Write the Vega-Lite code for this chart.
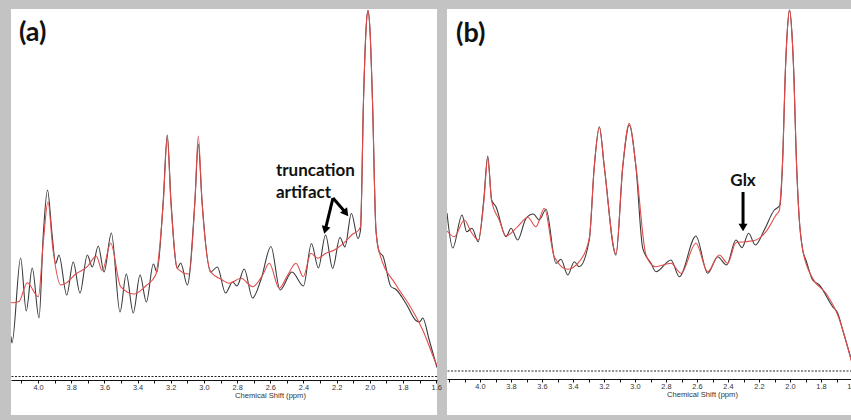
{
  "$schema": "https://vega.github.io/schema/vega-lite/v6.json",
  "background": "#c3c3c3",
  "padding": {"left": 10, "top": 9, "right": 0, "bottom": 5},
  "autosize": {"type": "pad"},
  "bounds": "flush",
  "spacing": 10,
  "config": {
    "view": {"fill": "white", "stroke": null},
    "axisX": {
      "grid": false,
      "domainColor": "#111",
      "domainWidth": 1,
      "tickColor": "#111",
      "tickSize": 3,
      "tickWidth": 1,
      "labelFont": "Liberation Sans",
      "labelFontSize": 7.4,
      "labelColor": "#333",
      "labelPadding": 0,
      "labelFlush": false,
      "labelOverlap": false,
      "titleFont": "Liberation Sans",
      "titleFontSize": 7.6,
      "titleFontWeight": "normal",
      "titleColor": "#333",
      "titleBaseline": "middle"
    }
  },
  "datasets": {
    "specA": [
      {"ppm": 4.163, "intensity": 40, "series": "spectrum"},
      {"ppm": 4.157, "intensity": 33.5, "series": "spectrum"},
      {"ppm": 4.105, "intensity": 118.5, "series": "spectrum"},
      {"ppm": 4.071, "intensity": 65.5, "series": "spectrum"},
      {"ppm": 4.035, "intensity": 108.5, "series": "spectrum"},
      {"ppm": 3.994, "intensity": 58.5, "series": "spectrum"},
      {"ppm": 3.968, "intensity": 143, "series": "spectrum"},
      {"ppm": 3.943, "intensity": 186.5, "series": "spectrum"},
      {"ppm": 3.916, "intensity": 143, "series": "spectrum"},
      {"ppm": 3.894, "intensity": 113, "series": "spectrum"},
      {"ppm": 3.874, "intensity": 121.5, "series": "spectrum"},
      {"ppm": 3.827, "intensity": 81.5, "series": "spectrum"},
      {"ppm": 3.788, "intensity": 114.5, "series": "spectrum"},
      {"ppm": 3.747, "intensity": 83.5, "series": "spectrum"},
      {"ppm": 3.703, "intensity": 121.5, "series": "spectrum"},
      {"ppm": 3.673, "intensity": 109.5, "series": "spectrum"},
      {"ppm": 3.637, "intensity": 130.5, "series": "spectrum"},
      {"ppm": 3.602, "intensity": 104.5, "series": "spectrum"},
      {"ppm": 3.558, "intensity": 143.5, "series": "spectrum"},
      {"ppm": 3.506, "intensity": 64.5, "series": "spectrum"},
      {"ppm": 3.468, "intensity": 102.5, "series": "spectrum"},
      {"ppm": 3.426, "intensity": 63.5, "series": "spectrum"},
      {"ppm": 3.385, "intensity": 101.5, "series": "spectrum"},
      {"ppm": 3.347, "intensity": 74.5, "series": "spectrum"},
      {"ppm": 3.305, "intensity": 112.5, "series": "spectrum"},
      {"ppm": 3.283, "intensity": 104.5, "series": "spectrum"},
      {"ppm": 3.245, "intensity": 176.5, "series": "spectrum"},
      {"ppm": 3.221, "intensity": 241.5, "series": "spectrum"},
      {"ppm": 3.199, "intensity": 176.5, "series": "spectrum"},
      {"ppm": 3.161, "intensity": 108.5, "series": "spectrum"},
      {"ppm": 3.140, "intensity": 113.5, "series": "spectrum"},
      {"ppm": 3.100, "intensity": 91.5, "series": "spectrum"},
      {"ppm": 3.054, "intensity": 176.5, "series": "spectrum"},
      {"ppm": 3.034, "intensity": 232.5, "series": "spectrum"},
      {"ppm": 3.012, "intensity": 176.5, "series": "spectrum"},
      {"ppm": 2.960, "intensity": 104.5, "series": "spectrum"},
      {"ppm": 2.919, "intensity": 109.5, "series": "spectrum"},
      {"ppm": 2.870, "intensity": 83.5, "series": "spectrum"},
      {"ppm": 2.827, "intensity": 94.5, "series": "spectrum"},
      {"ppm": 2.801, "intensity": 90.5, "series": "spectrum"},
      {"ppm": 2.757, "intensity": 107.5, "series": "spectrum"},
      {"ppm": 2.707, "intensity": 78.5, "series": "spectrum"},
      {"ppm": 2.656, "intensity": 97, "series": "spectrum"},
      {"ppm": 2.596, "intensity": 130, "series": "spectrum"},
      {"ppm": 2.541, "intensity": 86.5, "series": "spectrum"},
      {"ppm": 2.469, "intensity": 104.5, "series": "spectrum"},
      {"ppm": 2.400, "intensity": 90.5, "series": "spectrum"},
      {"ppm": 2.352, "intensity": 133, "series": "spectrum"},
      {"ppm": 2.310, "intensity": 108.5, "series": "spectrum"},
      {"ppm": 2.267, "intensity": 141.5, "series": "spectrum"},
      {"ppm": 2.224, "intensity": 108, "series": "spectrum"},
      {"ppm": 2.180, "intensity": 139, "series": "spectrum"},
      {"ppm": 2.150, "intensity": 129.5, "series": "spectrum"},
      {"ppm": 2.111, "intensity": 163, "series": "spectrum"},
      {"ppm": 2.071, "intensity": 138, "series": "spectrum"},
      {"ppm": 2.056, "intensity": 146.5, "series": "spectrum"},
      {"ppm": 2.038, "intensity": 276.5, "series": "spectrum"},
      {"ppm": 2.023, "intensity": 346.5, "series": "spectrum"},
      {"ppm": 2.011, "intensity": 366, "series": "spectrum"},
      {"ppm": 1.999, "intensity": 346.5, "series": "spectrum"},
      {"ppm": 1.984, "intensity": 276.5, "series": "spectrum"},
      {"ppm": 1.963, "intensity": 146.5, "series": "spectrum"},
      {"ppm": 1.943, "intensity": 124.5, "series": "spectrum"},
      {"ppm": 1.921, "intensity": 120.5, "series": "spectrum"},
      {"ppm": 1.873, "intensity": 90, "series": "spectrum"},
      {"ppm": 1.842, "intensity": 87, "series": "spectrum"},
      {"ppm": 1.782, "intensity": 73, "series": "spectrum"},
      {"ppm": 1.722, "intensity": 56, "series": "spectrum"},
      {"ppm": 1.700, "intensity": 54.5, "series": "spectrum"},
      {"ppm": 1.681, "intensity": 58.5, "series": "spectrum"},
      {"ppm": 1.642, "intensity": 36.5, "series": "spectrum"},
      {"ppm": 1.595, "intensity": 9, "series": "spectrum"},
      {"ppm": 4.163, "intensity": 74, "series": "fit"},
      {"ppm": 4.155, "intensity": 73.8, "series": "fit"},
      {"ppm": 4.115, "intensity": 75, "series": "fit"},
      {"ppm": 4.065, "intensity": 93.8, "series": "fit"},
      {"ppm": 3.998, "intensity": 79.8, "series": "fit"},
      {"ppm": 3.968, "intensity": 135, "series": "fit"},
      {"ppm": 3.940, "intensity": 174.8, "series": "fit"},
      {"ppm": 3.912, "intensity": 130, "series": "fit"},
      {"ppm": 3.863, "intensity": 91.5, "series": "fit"},
      {"ppm": 3.833, "intensity": 93.2, "series": "fit"},
      {"ppm": 3.773, "intensity": 102.5, "series": "fit"},
      {"ppm": 3.703, "intensity": 109.8, "series": "fit"},
      {"ppm": 3.649, "intensity": 120.5, "series": "fit"},
      {"ppm": 3.613, "intensity": 105.8, "series": "fit"},
      {"ppm": 3.562, "intensity": 133.2, "series": "fit"},
      {"ppm": 3.502, "intensity": 89.8, "series": "fit"},
      {"ppm": 3.422, "intensity": 82.5, "series": "fit"},
      {"ppm": 3.351, "intensity": 90.5, "series": "fit"},
      {"ppm": 3.291, "intensity": 101.5, "series": "fit"},
      {"ppm": 3.245, "intensity": 174, "series": "fit"},
      {"ppm": 3.221, "intensity": 239.2, "series": "fit"},
      {"ppm": 3.199, "intensity": 174, "series": "fit"},
      {"ppm": 3.161, "intensity": 108.2, "series": "fit"},
      {"ppm": 3.090, "intensity": 102.5, "series": "fit"},
      {"ppm": 3.054, "intensity": 176, "series": "fit"},
      {"ppm": 3.034, "intensity": 240.5, "series": "fit"},
      {"ppm": 3.012, "intensity": 176, "series": "fit"},
      {"ppm": 2.959, "intensity": 104.8, "series": "fit"},
      {"ppm": 2.889, "intensity": 96.5, "series": "fit"},
      {"ppm": 2.847, "intensity": 93.2, "series": "fit"},
      {"ppm": 2.777, "intensity": 98.2, "series": "fit"},
      {"ppm": 2.706, "intensity": 89.8, "series": "fit"},
      {"ppm": 2.646, "intensity": 101.5, "series": "fit"},
      {"ppm": 2.606, "intensity": 113.2, "series": "fit"},
      {"ppm": 2.546, "intensity": 88.2, "series": "fit"},
      {"ppm": 2.495, "intensity": 101.5, "series": "fit"},
      {"ppm": 2.445, "intensity": 113.2, "series": "fit"},
      {"ppm": 2.401, "intensity": 99.8, "series": "fit"},
      {"ppm": 2.355, "intensity": 123.2, "series": "fit"},
      {"ppm": 2.314, "intensity": 118.2, "series": "fit"},
      {"ppm": 2.264, "intensity": 123.2, "series": "fit"},
      {"ppm": 2.214, "intensity": 126.5, "series": "fit"},
      {"ppm": 2.154, "intensity": 133.8, "series": "fit"},
      {"ppm": 2.103, "intensity": 142.5, "series": "fit"},
      {"ppm": 2.067, "intensity": 146.5, "series": "fit"},
      {"ppm": 2.056, "intensity": 150, "series": "fit"},
      {"ppm": 2.038, "intensity": 276.5, "series": "fit"},
      {"ppm": 2.023, "intensity": 346.5, "series": "fit"},
      {"ppm": 2.011, "intensity": 366, "series": "fit"},
      {"ppm": 1.999, "intensity": 346.5, "series": "fit"},
      {"ppm": 1.984, "intensity": 276.5, "series": "fit"},
      {"ppm": 1.963, "intensity": 146.5, "series": "fit"},
      {"ppm": 1.943, "intensity": 124.5, "series": "fit"},
      {"ppm": 1.842, "intensity": 91.5, "series": "fit"},
      {"ppm": 1.762, "intensity": 71.5, "series": "fit"},
      {"ppm": 1.681, "intensity": 46.5, "series": "fit"},
      {"ppm": 1.601, "intensity": 13.2, "series": "fit"},
      {"ppm": 1.595, "intensity": 11, "series": "fit"}
    ],
    "specB": [
      {"ppm": 4.213, "intensity": 158, "series": "spectrum"},
      {"ppm": 4.176, "intensity": 123, "series": "spectrum"},
      {"ppm": 4.116, "intensity": 156, "series": "spectrum"},
      {"ppm": 4.086, "intensity": 139.3, "series": "spectrum"},
      {"ppm": 4.052, "intensity": 142.7, "series": "spectrum"},
      {"ppm": 4.011, "intensity": 129.3, "series": "spectrum"},
      {"ppm": 3.976, "intensity": 171, "series": "spectrum"},
      {"ppm": 3.950, "intensity": 215, "series": "spectrum"},
      {"ppm": 3.925, "intensity": 171, "series": "spectrum"},
      {"ppm": 3.897, "intensity": 164.3, "series": "spectrum"},
      {"ppm": 3.832, "intensity": 134.3, "series": "spectrum"},
      {"ppm": 3.800, "intensity": 142.7, "series": "spectrum"},
      {"ppm": 3.757, "intensity": 131, "series": "spectrum"},
      {"ppm": 3.703, "intensity": 152.7, "series": "spectrum"},
      {"ppm": 3.656, "intensity": 157, "series": "spectrum"},
      {"ppm": 3.618, "intensity": 151, "series": "spectrum"},
      {"ppm": 3.574, "intensity": 161.7, "series": "spectrum"},
      {"ppm": 3.510, "intensity": 107.7, "series": "spectrum"},
      {"ppm": 3.478, "intensity": 111.7, "series": "spectrum"},
      {"ppm": 3.434, "intensity": 96, "series": "spectrum"},
      {"ppm": 3.392, "intensity": 109.3, "series": "spectrum"},
      {"ppm": 3.360, "intensity": 104.3, "series": "spectrum"},
      {"ppm": 3.295, "intensity": 131, "series": "spectrum"},
      {"ppm": 3.263, "intensity": 204, "series": "spectrum"},
      {"ppm": 3.230, "intensity": 244.3, "series": "spectrum"},
      {"ppm": 3.198, "intensity": 204, "series": "spectrum"},
      {"ppm": 3.123, "intensity": 116, "series": "spectrum"},
      {"ppm": 3.079, "intensity": 204, "series": "spectrum"},
      {"ppm": 3.037, "intensity": 246, "series": "spectrum"},
      {"ppm": 2.994, "intensity": 204, "series": "spectrum"},
      {"ppm": 2.950, "intensity": 122.7, "series": "spectrum"},
      {"ppm": 2.897, "intensity": 107.7, "series": "spectrum"},
      {"ppm": 2.865, "intensity": 99.3, "series": "spectrum"},
      {"ppm": 2.768, "intensity": 111, "series": "spectrum"},
      {"ppm": 2.714, "intensity": 94.3, "series": "spectrum"},
      {"ppm": 2.607, "intensity": 135, "series": "spectrum"},
      {"ppm": 2.531, "intensity": 97.7, "series": "spectrum"},
      {"ppm": 2.467, "intensity": 114.3, "series": "spectrum"},
      {"ppm": 2.409, "intensity": 106, "series": "spectrum"},
      {"ppm": 2.349, "intensity": 131, "series": "spectrum"},
      {"ppm": 2.310, "intensity": 123.3, "series": "spectrum"},
      {"ppm": 2.267, "intensity": 137.7, "series": "spectrum"},
      {"ppm": 2.224, "intensity": 126, "series": "spectrum"},
      {"ppm": 2.166, "intensity": 141, "series": "spectrum"},
      {"ppm": 2.101, "intensity": 161, "series": "spectrum"},
      {"ppm": 2.073, "intensity": 164.3, "series": "spectrum"},
      {"ppm": 2.065, "intensity": 166, "series": "spectrum"},
      {"ppm": 2.045, "intensity": 221, "series": "spectrum"},
      {"ppm": 2.032, "intensity": 291, "series": "spectrum"},
      {"ppm": 2.019, "intensity": 336, "series": "spectrum"},
      {"ppm": 2.003, "intensity": 361, "series": "spectrum"},
      {"ppm": 1.987, "intensity": 336, "series": "spectrum"},
      {"ppm": 1.974, "intensity": 291, "series": "spectrum"},
      {"ppm": 1.961, "intensity": 221, "series": "spectrum"},
      {"ppm": 1.942, "intensity": 156, "series": "spectrum"},
      {"ppm": 1.918, "intensity": 121, "series": "spectrum"},
      {"ppm": 1.897, "intensity": 111, "series": "spectrum"},
      {"ppm": 1.854, "intensity": 91, "series": "spectrum"},
      {"ppm": 1.811, "intensity": 86, "series": "spectrum"},
      {"ppm": 1.725, "intensity": 64.3, "series": "spectrum"},
      {"ppm": 1.692, "intensity": 57.7, "series": "spectrum"},
      {"ppm": 1.660, "intensity": 41, "series": "spectrum"},
      {"ppm": 1.600, "intensity": 9, "series": "spectrum"},
      {"ppm": 4.213, "intensity": 140, "series": "fit"},
      {"ppm": 4.166, "intensity": 134.3, "series": "fit"},
      {"ppm": 4.101, "intensity": 151, "series": "fit"},
      {"ppm": 4.058, "intensity": 139.3, "series": "fit"},
      {"ppm": 4.011, "intensity": 131, "series": "fit"},
      {"ppm": 3.976, "intensity": 168, "series": "fit"},
      {"ppm": 3.950, "intensity": 212.7, "series": "fit"},
      {"ppm": 3.925, "intensity": 170, "series": "fit"},
      {"ppm": 3.876, "intensity": 151, "series": "fit"},
      {"ppm": 3.832, "intensity": 135, "series": "fit"},
      {"ppm": 3.757, "intensity": 144.3, "series": "fit"},
      {"ppm": 3.692, "intensity": 153.7, "series": "fit"},
      {"ppm": 3.639, "intensity": 144.3, "series": "fit"},
      {"ppm": 3.585, "intensity": 162.7, "series": "fit"},
      {"ppm": 3.521, "intensity": 114.3, "series": "fit"},
      {"ppm": 3.434, "intensity": 101.7, "series": "fit"},
      {"ppm": 3.360, "intensity": 109.3, "series": "fit"},
      {"ppm": 3.295, "intensity": 133, "series": "fit"},
      {"ppm": 3.263, "intensity": 204, "series": "fit"},
      {"ppm": 3.230, "intensity": 243.7, "series": "fit"},
      {"ppm": 3.198, "intensity": 204, "series": "fit"},
      {"ppm": 3.123, "intensity": 117, "series": "fit"},
      {"ppm": 3.079, "intensity": 205, "series": "fit"},
      {"ppm": 3.037, "intensity": 247.7, "series": "fit"},
      {"ppm": 2.994, "intensity": 205, "series": "fit"},
      {"ppm": 2.929, "intensity": 116, "series": "fit"},
      {"ppm": 2.869, "intensity": 104.3, "series": "fit"},
      {"ppm": 2.768, "intensity": 107.7, "series": "fit"},
      {"ppm": 2.703, "intensity": 97.7, "series": "fit"},
      {"ppm": 2.607, "intensity": 127.7, "series": "fit"},
      {"ppm": 2.531, "intensity": 99.3, "series": "fit"},
      {"ppm": 2.456, "intensity": 116, "series": "fit"},
      {"ppm": 2.402, "intensity": 107.7, "series": "fit"},
      {"ppm": 2.349, "intensity": 128.3, "series": "fit"},
      {"ppm": 2.284, "intensity": 129.3, "series": "fit"},
      {"ppm": 2.219, "intensity": 131, "series": "fit"},
      {"ppm": 2.155, "intensity": 139.3, "series": "fit"},
      {"ppm": 2.090, "intensity": 156, "series": "fit"},
      {"ppm": 2.068, "intensity": 161, "series": "fit"},
      {"ppm": 2.065, "intensity": 166, "series": "fit"},
      {"ppm": 2.045, "intensity": 221, "series": "fit"},
      {"ppm": 2.032, "intensity": 291, "series": "fit"},
      {"ppm": 2.019, "intensity": 336, "series": "fit"},
      {"ppm": 2.003, "intensity": 361, "series": "fit"},
      {"ppm": 1.987, "intensity": 336, "series": "fit"},
      {"ppm": 1.974, "intensity": 291, "series": "fit"},
      {"ppm": 1.961, "intensity": 221, "series": "fit"},
      {"ppm": 1.942, "intensity": 156, "series": "fit"},
      {"ppm": 1.918, "intensity": 121, "series": "fit"},
      {"ppm": 1.854, "intensity": 92.7, "series": "fit"},
      {"ppm": 1.768, "intensity": 77.7, "series": "fit"},
      {"ppm": 1.692, "intensity": 56, "series": "fit"},
      {"ppm": 1.600, "intensity": 7.7, "series": "fit"}
    ],
    "notesA": [
      {"kind": "panel", "label": "(a)", "ppm": 4.115, "intensity": 335.5},
      {"kind": "note", "label": "truncation", "ppm": 2.566, "intensity": 200.5},
      {"kind": "note", "label": "artifact", "ppm": 2.566, "intensity": 178.5}
    ],
    "arrowsA": [
      {"arrow": 1, "ppm": 2.222, "intensity": 178.5, "ppm2": 2.269, "intensity2": 146.4},
      {"arrow": 2, "ppm": 2.222, "intensity": 178.5, "ppm2": 2.144, "intensity2": 163.4}
    ],
    "notesB": [
      {"kind": "panel", "label": "(b)", "ppm": 4.155, "intensity": 329},
      {"kind": "note", "label": "Glx", "ppm": 2.303, "intensity": 185}
    ],
    "arrowsB": [
      {"arrow": 1, "ppm": 2.303, "intensity": 179, "ppm2": 2.303, "intensity2": 143.5}
    ]
  },
  "hconcat": [
    {
      "width": 426,
      "height": 406,
      "layer": [
        {
          "data": {"values": [{}]},
          "mark": {"type": "rule", "strokeDash": [2, 1.5], "color": "#222", "strokeWidth": 1},
          "encoding": {"y": {"datum": 0, "type": "quantitative", "scale": {"domain": [-38.5, 367.5], "nice": false, "zero": false}, "axis": null}}
        },
        {
          "data": {"name": "specA"},
          "transform": [{"filter": "datum.series == 'spectrum'"}],
          "mark": {"type": "line", "color": "#3a3a3a", "strokeWidth": 1.1, "interpolate": "monotone", "clip": true},
          "encoding": {
            "x": {"field": "ppm", "type": "quantitative", "scale": {"domain": [4.163, 1.595], "nice": false, "zero": false}, "axis": {"orient": "bottom", "offset": -35, "tickCount": 26, "format": ".1f", "labelExpr": "round(datum.value * 10) % 2 === 0 ? datum.label : ''", "title": "Chemical Shift (ppm)", "titleX": 259, "titleY": 15}},
            "y": {"field": "intensity", "type": "quantitative"},
            "order": {"field": "ppm", "sort": "descending"}
          }
        },
        {
          "data": {"name": "specA"},
          "transform": [{"filter": "datum.series == 'fit'"}],
          "mark": {"type": "line", "color": "#e34b4b", "strokeWidth": 1.1, "interpolate": "monotone", "clip": true},
          "encoding": {
            "x": {"field": "ppm", "type": "quantitative"},
            "y": {"field": "intensity", "type": "quantitative"},
            "order": {"field": "ppm", "sort": "descending"}
          }
        },
        {
          "data": {"name": "arrowsA"},
          "mark": {"type": "rule", "color": "#000", "strokeWidth": 3},
          "encoding": {
            "x": {"field": "ppm", "type": "quantitative"},
            "y": {"field": "intensity", "type": "quantitative"},
            "x2": {"field": "ppm2"},
            "y2": {"field": "intensity2"}
          }
        },
        {
          "data": {"name": "arrowsA"},
          "transform": [{"filter": "datum.arrow == 1"}],
          "mark": {"type": "point", "shape": "triangle-up", "filled": true, "size": 80, "color": "#000", "opacity": 1, "angle": 194},
          "encoding": {
            "x": {"field": "ppm2", "type": "quantitative"},
            "y": {"field": "intensity2", "type": "quantitative"}
          }
        },
        {
          "data": {"name": "arrowsA"},
          "transform": [{"filter": "datum.arrow == 2"}],
          "mark": {"type": "point", "shape": "triangle-up", "filled": true, "size": 80, "color": "#000", "opacity": 1, "angle": 142},
          "encoding": {
            "x": {"field": "ppm2", "type": "quantitative"},
            "y": {"field": "intensity2", "type": "quantitative"}
          }
        },
        {
          "data": {"name": "notesA"},
          "transform": [{"filter": "datum.kind == 'note'"}],
          "mark": {"type": "text", "font": "Lato", "fontWeight": "bold", "fontSize": 17, "color": "#111", "align": "left", "baseline": "alphabetic"},
          "encoding": {
            "x": {"field": "ppm", "type": "quantitative"},
            "y": {"field": "intensity", "type": "quantitative"},
            "text": {"field": "label"}
          }
        },
        {
          "data": {"name": "notesA"},
          "transform": [{"filter": "datum.kind == 'panel'"}],
          "mark": {"type": "text", "font": "Lato", "fontWeight": "bold", "fontSize": 27, "color": "#111", "align": "left", "baseline": "alphabetic"},
          "encoding": {
            "x": {"field": "ppm", "type": "quantitative"},
            "y": {"field": "intensity", "type": "quantitative"},
            "text": {"field": "label"}
          }
        }
      ]
    },
    {
      "width": 405,
      "height": 406,
      "layer": [
        {
          "data": {"values": [{}]},
          "mark": {"type": "rule", "strokeDash": [2, 1.5], "color": "#222", "strokeWidth": 1},
          "encoding": {"y": {"datum": 0, "type": "quantitative", "scale": {"domain": [-44, 362], "nice": false, "zero": false}, "axis": null}}
        },
        {
          "data": {"name": "specB"},
          "transform": [{"filter": "datum.series == 'spectrum'"}],
          "mark": {"type": "line", "color": "#3a3a3a", "strokeWidth": 1.1, "interpolate": "monotone", "clip": true},
          "encoding": {
            "x": {"field": "ppm", "type": "quantitative", "scale": {"domain": [4.213, 1.6], "nice": false, "zero": false}, "axis": {"orient": "bottom", "offset": -36, "tickCount": 26, "format": ".1f", "labelExpr": "datum.value < 4.15 && round(datum.value * 10) % 2 === 0 ? datum.label : ''", "title": "Chemical Shift (ppm)", "titleX": 255, "titleY": 15}},
            "y": {"field": "intensity", "type": "quantitative"},
            "order": {"field": "ppm", "sort": "descending"}
          }
        },
        {
          "data": {"name": "specB"},
          "transform": [{"filter": "datum.series == 'fit'"}],
          "mark": {"type": "line", "color": "#e34b4b", "strokeWidth": 1.1, "interpolate": "monotone", "clip": true},
          "encoding": {
            "x": {"field": "ppm", "type": "quantitative"},
            "y": {"field": "intensity", "type": "quantitative"},
            "order": {"field": "ppm", "sort": "descending"}
          }
        },
        {
          "data": {"name": "arrowsB"},
          "mark": {"type": "rule", "color": "#000", "strokeWidth": 3},
          "encoding": {
            "x": {"field": "ppm", "type": "quantitative"},
            "y": {"field": "intensity", "type": "quantitative"},
            "x2": {"field": "ppm2"},
            "y2": {"field": "intensity2"}
          }
        },
        {
          "data": {"name": "arrowsB"},
          "mark": {"type": "point", "shape": "triangle-up", "filled": true, "size": 80, "color": "#000", "opacity": 1, "angle": 180},
          "encoding": {
            "x": {"field": "ppm2", "type": "quantitative"},
            "y": {"field": "intensity2", "type": "quantitative"}
          }
        },
        {
          "data": {"name": "notesB"},
          "transform": [{"filter": "datum.kind == 'note'"}],
          "mark": {"type": "text", "font": "Lato", "fontWeight": "bold", "fontSize": 17, "color": "#111", "align": "center", "baseline": "alphabetic"},
          "encoding": {
            "x": {"field": "ppm", "type": "quantitative"},
            "y": {"field": "intensity", "type": "quantitative"},
            "text": {"field": "label"}
          }
        },
        {
          "data": {"name": "notesB"},
          "transform": [{"filter": "datum.kind == 'panel'"}],
          "mark": {"type": "text", "font": "Lato", "fontWeight": "bold", "fontSize": 27, "color": "#111", "align": "left", "baseline": "alphabetic"},
          "encoding": {
            "x": {"field": "ppm", "type": "quantitative"},
            "y": {"field": "intensity", "type": "quantitative"},
            "text": {"field": "label"}
          }
        }
      ]
    }
  ]
}
